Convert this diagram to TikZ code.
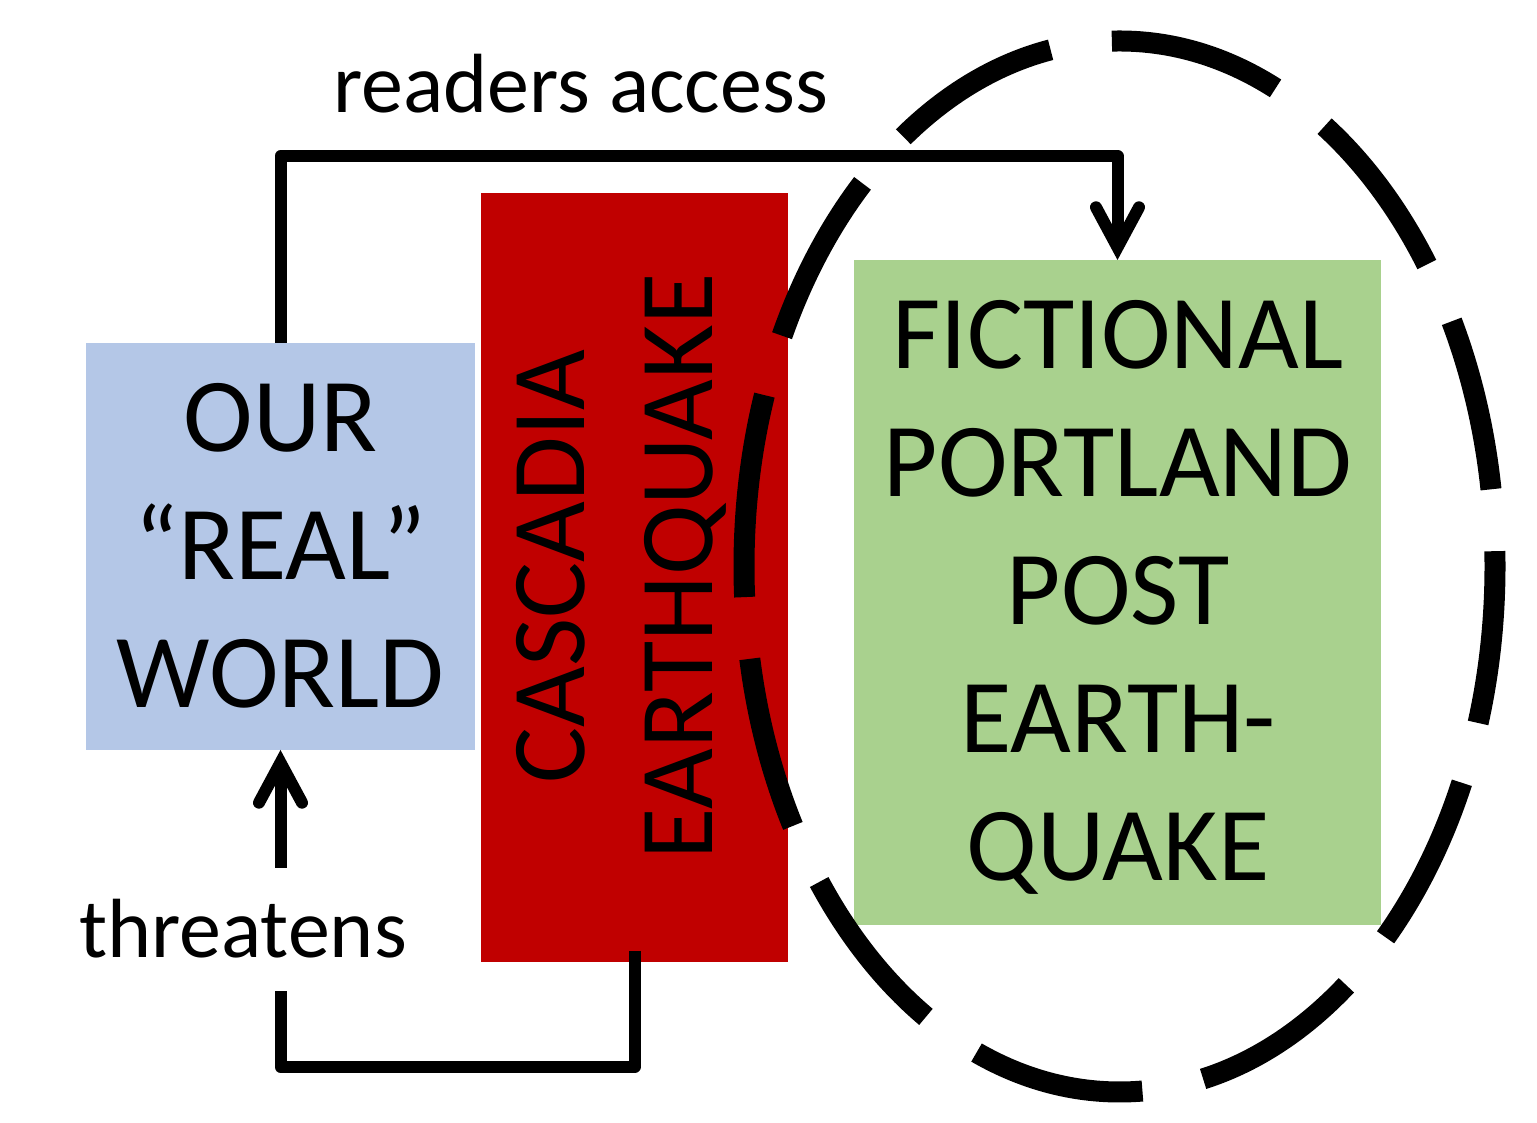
\documentclass[tikz,border=0pt]{standalone}
\usepackage{fontspec}
\setmainfont{Carlito}
\usetikzlibrary{arrows.meta}
\definecolor{realblue}{HTML}{B4C7E7}
\definecolor{quakered}{HTML}{C00000}
\definecolor{fictgreen}{HTML}{A9D18E}
\begin{document}
\begin{tikzpicture}[x=1pt,y=1pt,
  box/.style={draw=none, inner sep=0pt, outer sep=0pt},
  bigtext/.style={inner sep=0pt, outer sep=0pt, align=center, font=\fontsize{105}{128}\selectfont},
  smalltext/.style={inner sep=0pt, outer sep=0pt, font=\fontsize{84}{100}\selectfont},
  conn/.style={line width=12pt, line join=round},
  chev/.style={-{Straight Barb[length=40pt,width=43pt,line width=12pt,line cap=round,line join=miter]}},
  dashring/.style={line width=21pt, dash pattern=on 173pt off 62pt}]
\useasboundingbox (0,0) rectangle (1537,1123);
% boxes
\node[box, fill=realblue, minimum width=389pt, minimum height=407pt] (real) at (280.5,576.5) {};
\node[box, fill=quakered, minimum width=307pt, minimum height=769pt] (quake) at (634.5,545.5) {};
\node[box, fill=fictgreen, minimum width=527pt, minimum height=665pt] (fict) at (1117.5,530.5) {};
% box texts
\node[bigtext] (realtxt) at (280.5,577.5) {OUR\\“REAL”\\WORLD};
\node[bigtext, rotate=90] (quaketxt) at (621,556.5) {CASCADIA\\EARTHQUAKE};
\node[bigtext] (ficttxt) at (1118,525.5) {FICTIONAL\\PORTLAND\\POST\\EARTH-\\QUAKE};
% readers access connector
\coordinate (ra) at (280.5,967);
\draw[conn, chev] (real.north) -- (ra) -| (fict.north);
\node[smalltext, anchor=base] (access) at (580.5,1010) {readers access};
% threatens connector
\coordinate (tstart) at (634.5,172);
\coordinate (tcorner) at (280.5,56);
\coordinate (tend) at (280.5,132);
\coordinate (tarrow) at (280.5,255);
\draw[conn] (tstart) |- (tcorner) -- (tend);
\draw[conn, chev] (tarrow) -- (real.south);
\node[smalltext, anchor=base] (threat) at (243,165) {threatens};
% dashed ring: starts at its leftmost point and runs clockwise
\coordinate (ringleft) at (744,556.5);
\draw[dashring] (ringleft) arc[start angle=180, end angle=-180, x radius=375.5pt, y radius=525.5pt];
\end{tikzpicture}
\end{document}
